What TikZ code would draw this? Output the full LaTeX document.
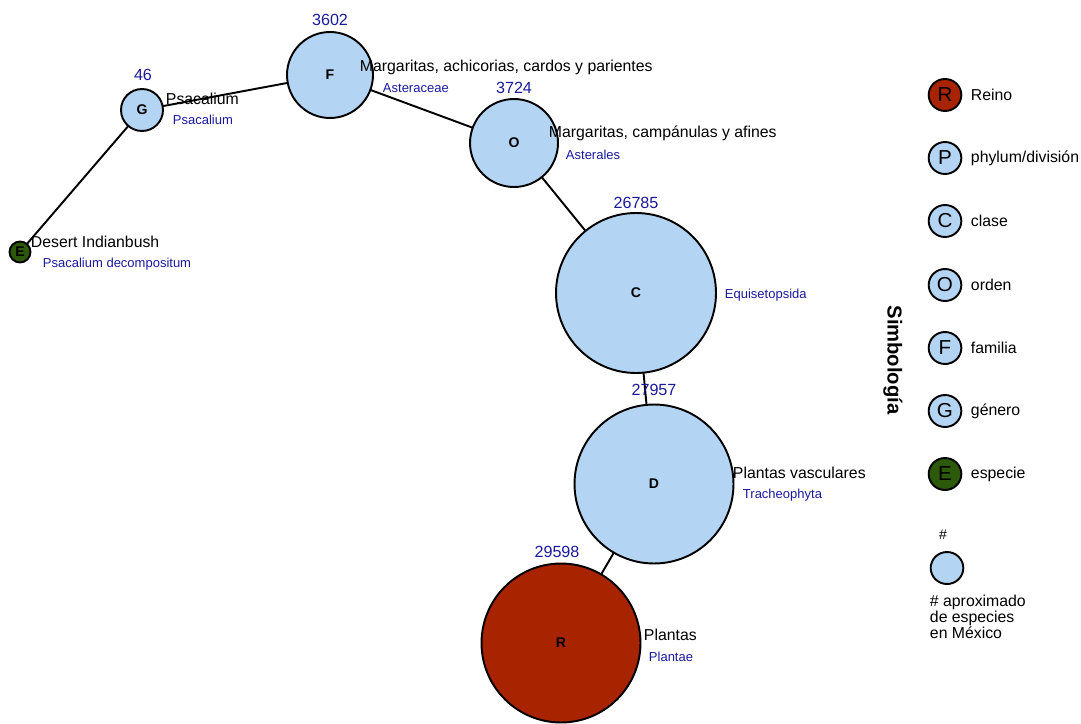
\documentclass[tikz,border=0pt]{standalone}
\usepackage{fontspec}
\setmainfont{Liberation Sans}
\usepackage{xcolor}
\usetikzlibrary{positioning}

\definecolor{taxblue}{HTML}{B3D5F3}
\definecolor{reinored}{HTML}{A82400}
\definecolor{especiegreen}{HTML}{2D5A0A}
\definecolor{numblue}{HTML}{1A1A9C}

\begin{document}
\begin{tikzpicture}[x=0.02cm,y=-0.02cm,line width=1.1pt]
  \tikzstyle{taxon}=[circle,draw,fill=taxblue,inner sep=0pt,font=\fontsize{8}{9}\selectfont\bfseries]
  \tikzstyle{common}=[anchor=west,inner sep=0pt,font=\fontsize{9}{10}\selectfont]
  \tikzstyle{sci}=[anchor=west,inner sep=0pt,text=numblue,font=\fontsize{7.4}{9}\selectfont]
  \tikzstyle{count}=[inner sep=0pt,text=numblue,font=\fontsize{9.2}{10}\selectfont]
  \tikzstyle{key}=[circle,draw,fill=taxblue,inner sep=0pt,minimum width=0.64cm,minimum height=0.6cm,xscale=1.02,font=\fontsize{11.5}{12}\selectfont]
  \tikzstyle{keytext}=[anchor=west,inner sep=0pt,font=\fontsize{9}{10}\selectfont]

  \useasboundingbox (0,0) rectangle (1081,723);

  % ramas
  \coordinate (e) at (20,252);
  \coordinate (g) at (142,110);
  \coordinate (f) at (330,75);
  \coordinate (o) at (514,143);
  \coordinate (c) at (636,293);
  \coordinate (d) at (654,484);
  \coordinate (r) at (561,643);
  \draw (e) -- (g) -- (f) -- (o) -- (c) -- (d) -- (r);

  % nodos
  \node[taxon,fill=reinored,minimum size=3.18cm] (R) at (r) {R};
  \node[taxon,minimum size=3.18cm] (D) at (d) {D};
  \node[taxon,minimum size=3.2cm] (C) at (c) {C};
  \node[taxon,minimum size=1.76cm] (O) at (o) {O};
  \node[taxon,minimum size=1.72cm] (F) at (f) {F};
  \node[taxon,minimum size=0.84cm] (G) at (g) {G};
  \node[taxon,fill=especiegreen,minimum size=0.42cm] (E) at (e) {E};

  % numeros
  \node[count] (nG) at (143,75) {46};
  \node[count] (nF) at (330,20) {3602};
  \node[count] (nO) at (514,88) {3724};
  \node[count] (nC) at (636,203) {26785};
  \node[count] (nD) at (654,390) {27957};
  \node[count] (nR) at (557,552) {29598};

  % nombres
  \node[common] (tE) at (30,242) {Desert Indianbush};
  \node[sci] (sE) at (42,264) {Psacalium decompositum};
  \node[common] (tG) at (165,99) {Psacalium};
  \node[sci] (sG) at (172,120) {Psacalium};
  \node[common] (tF) at (359,67) {Margaritas, achicorias, cardos y parientes};
  \node[sci] (sF) at (382,88) {Asteraceae};
  \node[common] (tO) at (548,133) {Margaritas, campánulas y afines};
  \node[sci] (sO) at (565,155) {Asterales};
  \node[sci] (sC) at (724,295) {Equisetopsida};
  \node[common] (tD) at (732,473) {Plantas vasculares};
  \node[sci] (sD) at (742,495) {Tracheophyta};
  \node[common] (tR) at (643,635) {Plantas};
  \node[sci] (sR) at (648,657) {Plantae};

  % simbologia
  \node[rotate=-90,inner sep=0pt,font=\fontsize{11.5}{13}\selectfont\bfseries] (simb) at (893,360) {Simbología};
  \node[key,fill=reinored] (kR) at (945,95) {R};
  \node[key] (kP) at (945,158) {P};
  \node[key] (kC) at (945,221) {C};
  \node[key] (kO) at (945,285) {O};
  \node[key] (kF) at (945,348) {F};
  \node[key] (kG) at (945,411) {G};
  \node[key,fill=especiegreen] (kE) at (945,474) {E};
  \node[keytext] (lR) at (970,95) {Reino};
  \node[keytext] (lP) at (970,158) {phylum/división};
  \node[keytext] (lC) at (970,221) {clase};
  \node[keytext] (lO) at (970,285) {orden};
  \node[keytext] (lF) at (970,348) {familia};
  \node[keytext] (lG) at (970,411) {género};
  \node[keytext] (lE) at (970,474) {especie};
  \node[inner sep=0pt,font=\fontsize{8}{9}\selectfont] (kNum) at (943,535) {\#};
  \node[key] (kSize) at (947,568) {};
  \node[keytext,anchor=north west,align=left,font=\fontsize{9}{9.2}\selectfont] (lSize) at (929,594) {\# aproximado\\de especies\\en México};
\end{tikzpicture}
\end{document}
